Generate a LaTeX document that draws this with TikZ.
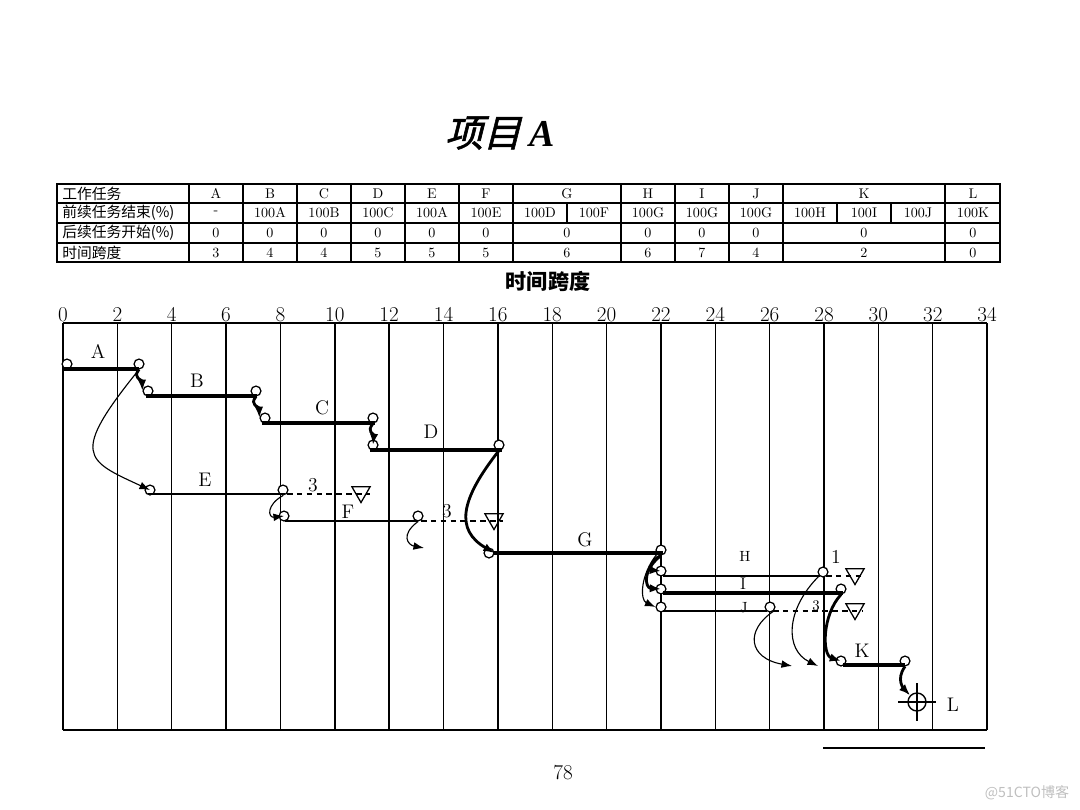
\documentclass[tikz,border=0pt]{standalone}
\usepackage{fontspec}
\usetikzlibrary{arrows.meta,shapes.geometric}
\newfontfamily\cjk{Noto Sans CJK SC}
\newfontfamily\cjktitle[FakeSlant=0.25,FakeBold=1.5]{Noto Sans CJK SC}
\newfontfamily\titleserif{Liberation Serif}

\tikzset{
  tabframe/.style={line width=1.3pt},
  tabline/.style={line width=0.8pt},
  cell/.style={font=\fontsize{10}{10}\selectfont, inner sep=0pt},
  rowhead/.style={font=\cjk\fontsize{10.5}{10.5}\selectfont, anchor=west, inner sep=0pt},
  gridline/.style={line width=1pt},
  tick/.style={font=\fontsize{15}{15}\selectfont, inner sep=0pt, anchor=base},
  ev/.style={circle, draw, fill=white, line width=0.9pt, inner sep=0pt, minimum size=7pt},
  critbar/.style={line width=3pt},
  taskbar/.style={line width=1.5pt},
  slack/.style={line width=0.9pt, dash pattern=on 4pt off 3pt},
  floatmark/.style={regular polygon, regular polygon sides=3, shape border rotate=180, draw, line width=0.9pt, inner sep=0pt, minimum size=15pt},
  tie/.style={line width=2pt, -{Latex[length=8pt,width=6pt]}},
  thinlink/.style={line width=0.8pt, -{Latex[length=7.5pt,width=5.5pt]}},
  tasklabel/.style={font=\fontsize{14}{14}\selectfont, inner sep=0pt},
  smalllabel/.style={font=\fontsize{10.5}{10.5}\selectfont, inner sep=0pt}
}

\begin{document}
\begin{tikzpicture}[x=0.025cm,y=-0.025cm]
            \def\xo{63}
            \def\ux{27.18}
            \useasboundingbox (0,0) rectangle (1080,810);

            % title
            \node[font=\fontsize{27}{30}\selectfont] (title) at (500,133) {{\cjktitle 项目}\hspace{6pt}{\titleserif\bfseries\itshape A}};

            % table of tasks
            \draw[tabframe] (57,184) rectangle (1000,262);
            \foreach \y in {203,223,243} \draw[tabline] (57,\y) -- (1000,\y);
            \foreach \x in {189,243,297,351,405,459,513,621,675,729,783,945} \draw[tabline] (\x,184) -- (\x,262);
            \foreach \x in {567,837,891} \draw[tabline] (\x,203) -- (\x,223);
            \node[rowhead] (rh1) at (62,193.5) {工作任务};
            \node[rowhead] (rh2) at (62,213) {前续任务结束(\%)};
            \node[rowhead] (rh3) at (62,233) {后续任务开始(\%)};
            \node[rowhead] (rh4) at (62,252.5) {时间跨度};
            \foreach \x/\txt [count=\i] in {216/A,270/B,324/C,378/D,432/E,486/F,567/G,648/H,702/I,756/J,864/K,973/L}
                \node[cell] (ra\i) at (\x,193.5) {\txt};
            \foreach \x/\txt [count=\i] in {216/-,270/100A,324/100B,378/100C,432/100A,486/100E,540/100D,594/100F,648/100G,702/100G,756/100G,810/100H,864/100I,918/100J,973/100K}
                \node[cell] (rb\i) at (\x,213) {\txt};
            \foreach \x/\txt [count=\i] in {216/0,270/0,324/0,378/0,432/0,486/0,567/0,648/0,702/0,756/0,864/0,973/0}
                \node[cell] (rc\i) at (\x,233) {\txt};
            \foreach \x/\txt [count=\i] in {216/3,270/4,324/4,378/5,432/5,486/5,567/6,648/6,702/7,756/4,864/2,973/0}
                \node[cell] (rd\i) at (\x,252.5) {\txt};

            % time axis
            \node[font=\cjk\bfseries\fontsize{15}{15}\selectfont] (axistitle) at (548,281) {时间跨度};
            \foreach \k in {0,2,...,34} {
                \draw[gridline] ({\xo+\ux*\k},323) -- ({\xo+\ux*\k},730);
                \node[tick] (tick\k) at ({\xo+\ux*\k},321) {\k};
            }
            \draw[gridline] (63,323) -- (987,323);
            \draw[line width=1.4pt] (63,730) -- (987,730);

            % events
            \node[ev] (As) at (67,364) {};
            \node[ev] (Ae) at (139,364) {};
            \node[ev] (Bs) at (148,391) {};
            \node[ev] (Be) at (256,391) {};
            \node[ev] (Cs) at (265,418) {};
            \node[ev] (Ce) at (373,418) {};
            \node[ev] (Ds) at (373,445) {};
            \node[ev] (De) at (499,445) {};
            \node[ev] (Es) at (150,490) {};
            \node[ev] (Ee) at (283,490) {};
            \node[ev] (Fs) at (284,516) {};
            \node[ev] (Fe) at (418,516) {};
            \node[ev] (Gs) at (489,553) {};
            \node[ev] (Ge) at (661,550) {};
            \node[ev] (Hs) at (661,571) {};
            \node[ev] (He) at (823,572) {};
            \node[ev] (Is) at (661,589) {};
            \node[ev] (Ie) at (841,589) {};
            \node[ev] (Js) at (661,607) {};
            \node[ev] (Je) at (770,607) {};
            \node[ev] (Ks) at (841,661) {};
            \node[ev] (Ke) at (905,661) {};
            \node[circle, draw, line width=1pt, inner sep=0pt, minimum size=12.8pt] (L) at (917,702) {};
            \draw[line width=1pt] ([xshift=-6.4pt]L.west) -- ([xshift=6.4pt]L.east);
            \draw[line width=1pt] ([yshift=6.4pt]L.north) -- ([yshift=-6.4pt]L.south);

            % labels
            \node[tasklabel] (lA) at (98,351) {A};
            \node[tasklabel] (lB) at (197,381) {B};
            \node[tasklabel] (lC) at (322,408) {C};
            \node[tasklabel] (lD) at (431,432) {D};
            \node[tasklabel] (lE) at (205,480) {E};
            \node[tasklabel] (lF) at (348,512) {F};
            \node[tasklabel] (lG) at (585,540) {G};
            \node[smalllabel] (lH) at (745,556) {H};
            \node[tasklabel, font=\fontsize{12}{12}\selectfont] (lI) at (743,584) {I};
            \node[smalllabel, anchor=base] (lJ) at (744,612) {J};
            \node[tasklabel] (lK) at (862,651) {K};
            \node[tasklabel] (lL) at (953,705) {L};

            % bars
            \draw[critbar] (63,369) -- (139,369);
            \draw[critbar] (146,396) -- (257,396);
            \draw[critbar] (262,423) -- (375,423);
            \draw[critbar] (370,450) -- (502,450);
            \draw[taskbar] (148,494) -- (285,494);
            \draw[taskbar] (285,521) -- (418,521);
            \draw[line width=2.2pt] (493,553) -- (663,553);
            \draw[taskbar] (663,576) -- (820,576);
            \draw[critbar] (663,593) -- (843,593);
            \draw[taskbar] (663,611) -- (767,611);
            \draw[critbar] (843,665) -- (905,665);

            % float
            \draw[slack] (287,494) -- (370,494);
            \node[floatmark] (Et) at (361,492) {};
            \node[tasklabel] (Ef) at (313,485) {3};
            \draw[slack] (421,521) -- (503,521);
            \node[floatmark] (Ft) at (494,519) {};
            \node[tasklabel] (Ff) at (447,511) {3};
            \draw[slack] (826,576) -- (863,576);
            \node[floatmark] (Ht) at (855,574) {};
            \node[tasklabel] (Hf) at (836,557) {1};
            \draw[slack] (773,611) -- (863,611);
            \node[floatmark] (Jt) at (855,609) {};
            \node[smalllabel] (Jf) at (816,606) {3};

            % links
            \draw[tie] (Ae.south) .. controls (132,378) and (142,380) .. (Bs.west);
            \draw[tie] (Be.south) .. controls (249,405) and (259,407) .. (Cs.west);
            \draw[tie] (Ce.south) .. controls (366,432) and (374,434) .. (Ds.center);
            \draw[tie] (De.south) .. controls (460,500) and (455,530) .. (Gs.east);
            \draw[thinlink] (Ae.south) .. controls (70,455) and (85,460) .. (Es.center);
            \draw[thinlink] (Ee.south) .. controls (266,505) and (268,518) .. (Fs.center);
            \coordinate (Fx) at (424,548);
            \draw[thinlink] (Fe.south) .. controls (400,535) and (408,545) .. (Fx);
            \draw[tie] (Ge.south) .. controls (650,560) and (650,570) .. (Hs.center);
            \draw[tie] (Ge.south) .. controls (642,570) and (645,588) .. (Is.center);
            \draw[thinlink] (Ge.south west) .. controls (640,575) and (640,600) .. (Js.west);
            \coordinate (Hx) at (818,666);
            \draw[thinlink] (He.south west) .. controls (785,610) and (785,650) .. (Hx);
            \coordinate (Jx) at (792,666);
            \draw[thinlink] (Je.south east) .. controls (745,630) and (748,658) .. (Jx);
            \draw[tie] (Ie.south) .. controls (822,615) and (822,655) .. (Ks.center);
            \draw[tie] (Ke.south) .. controls (895,680) and (905,690) .. (L.north west);

            % footer
            \draw[line width=1pt] (823,748) -- (985,748);
            \node[font=\fontsize{15}{15}\selectfont] (page) at (563,773) {78};
            \node[font=\cjk\fontsize{10}{10}\selectfont, text=black!25] (mark) at (1027,793) {@51CTO博客};
\end{tikzpicture}
\end{document}
